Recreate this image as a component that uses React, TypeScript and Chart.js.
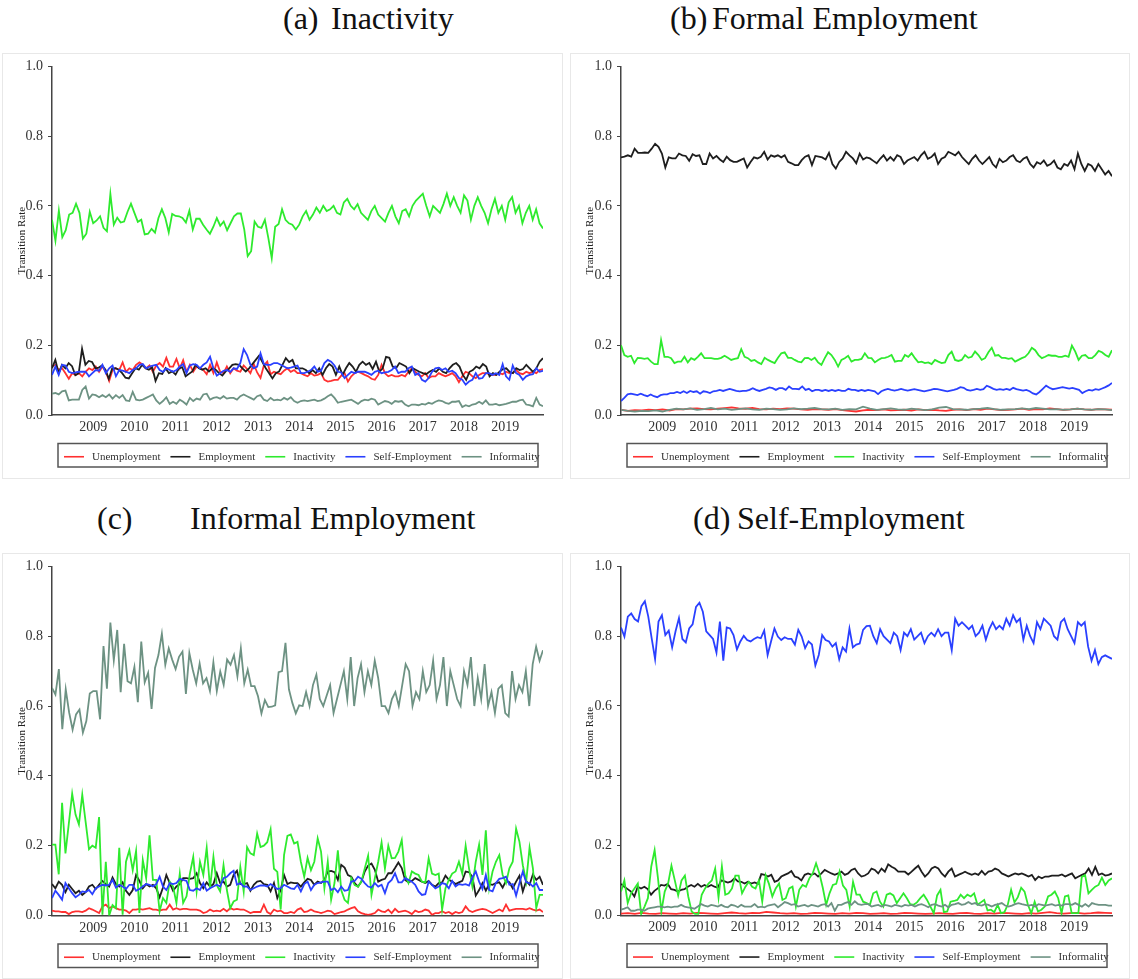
import React, { useEffect, useRef } from "react";
import { Chart, registerables } from "chart.js";

Chart.register(...registerables);

const FONT = '"Liberation Serif", "Times New Roman", Times, serif';

const SERIES_NAMES = ["Unemployment", "Employment", "Inactivity", "Self-Employment", "Informality"];
const SERIES_COLORS = ["#ff3030", "#1e1e1e", "#2eea2e", "#2a40ff", "#6d9283"];
const YEAR_TICKS = [2009, 2010, 2011, 2012, 2013, 2014, 2015, 2016, 2017, 2018, 2019];
const Y_TICKS = [0, 0.2, 0.4, 0.6, 0.8, 1.0];
const FIRST_MONTH = 2008; // Jan 2008
const LAST_MONTH = 2008 + 143 / 12; // Dec 2019

// ---- (a) transitions out of inactivity ----
const A_UNEMP = [0.139,0.144,0.129,0.134,0.12,0.104,0.12,0.115,0.12,0.111,0.124,0.134,0.129,0.139,0.124,0.139,0.124,0.098,0.129,0.134,0.129,0.151,0.124,0.134,0.129,0.144,0.151,0.144,0.134,0.142,0.124,0.142,0.149,0.139,0.164,0.139,0.139,0.161,0.134,0.157,0.124,0.144,0.124,0.139,0.134,0.129,0.117,0.144,0.12,0.151,0.124,0.12,0.139,0.12,0.134,0.127,0.124,0.142,0.132,0.12,0.146,0.122,0.106,0.142,0.153,0.117,0.124,0.12,0.117,0.127,0.134,0.124,0.129,
  0.12,0.12,0.115,0.111,0.12,0.113,0.115,0.12,0.101,0.096,0.098,0.101,0.101,0.113,0.12,0.096,0.111,0.12,0.124,0.12,0.115,0.111,0.104,0.101,0.115,0.144,0.12,0.111,0.115,0.111,0.111,0.115,0.111,0.124,0.134,0.124,0.115,0.111,0.12,0.106,0.111,0.111,0.12,0.115,0.111,0.115,0.12,0.111,0.094,0.111,0.124,0.12,0.111,0.106,0.115,0.12,0.12,0.117,0.115,0.115,0.12,0.117,0.124,0.12,0.12,0.129,0.12,0.117,0.124,0.12,0.124,0.12,0.129,0.132];
const A_EMP = [0.134,0.158,0.12,0.144,0.134,0.149,0.14,0.114,0.12,0.19,0.144,0.155,0.152,0.134,0.136,0.142,0.13,0.104,0.133,0.134,0.13,0.12,0.107,0.105,0.12,0.134,0.13,0.144,0.134,0.13,0.137,0.098,0.12,0.118,0.134,0.12,0.125,0.116,0.134,0.137,0.111,0.118,0.125,0.144,0.134,0.13,0.134,0.125,0.134,0.13,0.12,0.113,0.125,0.133,0.144,0.146,0.144,0.134,0.125,0.134,0.146,0.158,0.17,0.152,0.134,0.12,0.105,0.12,0.125,0.144,0.163,0.152,0.158,
  0.134,0.134,0.134,0.129,0.12,0.129,0.12,0.134,0.115,0.134,0.146,0.139,0.115,0.139,0.115,0.134,0.149,0.139,0.124,0.144,0.153,0.144,0.149,0.132,0.153,0.124,0.134,0.167,0.164,0.139,0.134,0.149,0.144,0.139,0.12,0.134,0.129,0.124,0.12,0.117,0.124,0.129,0.124,0.134,0.124,0.12,0.134,0.144,0.149,0.139,0.115,0.101,0.124,0.129,0.139,0.134,0.146,0.139,0.111,0.12,0.115,0.124,0.132,0.134,0.124,0.12,0.134,0.129,0.132,0.144,0.134,0.124,0.134,0.153,0.163];
const A_INACT = [0.56,0.50,0.586,0.51,0.53,0.575,0.58,0.606,0.58,0.506,0.52,0.583,0.55,0.558,0.57,0.537,0.527,0.634,0.546,0.566,0.552,0.555,0.583,0.606,0.58,0.554,0.56,0.518,0.52,0.534,0.523,0.565,0.59,0.565,0.524,0.577,0.571,0.57,0.565,0.552,0.586,0.532,0.563,0.563,0.546,0.532,0.52,0.54,0.565,0.543,0.555,0.53,0.55,0.57,0.578,0.578,0.532,0.456,0.47,0.555,0.54,0.537,0.56,0.508,0.45,0.54,0.548,0.59,0.56,0.55,0.546,0.532,0.546,
  0.57,0.585,0.56,0.575,0.595,0.58,0.6,0.585,0.59,0.6,0.58,0.575,0.61,0.62,0.6,0.59,0.605,0.58,0.57,0.56,0.585,0.6,0.575,0.565,0.555,0.58,0.6,0.57,0.55,0.585,0.59,0.57,0.6,0.615,0.625,0.635,0.6,0.57,0.6,0.59,0.58,0.605,0.635,0.6,0.625,0.6,0.58,0.63,0.615,0.56,0.6,0.625,0.6,0.58,0.55,0.59,0.62,0.58,0.6,0.56,0.61,0.625,0.58,0.6,0.55,0.58,0.6,0.56,0.59,0.55,0.535];
const A_SELF = [0.115,0.139,0.115,0.144,0.142,0.124,0.12,0.122,0.124,0.124,0.124,0.111,0.12,0.129,0.127,0.144,0.12,0.134,0.142,0.111,0.129,0.127,0.124,0.12,0.129,0.134,0.144,0.146,0.134,0.139,0.142,0.144,0.129,0.124,0.134,0.129,0.124,0.129,0.139,0.146,0.12,0.142,0.146,0.144,0.134,0.144,0.151,0.167,0.134,0.113,0.12,0.127,0.129,0.124,0.134,0.132,0.149,0.189,0.172,0.144,0.134,0.139,0.177,0.146,0.144,0.144,0.149,0.149,0.144,0.139,0.134,0.136,0.139,
  0.142,0.12,0.12,0.124,0.129,0.139,0.124,0.127,0.149,0.158,0.153,0.142,0.124,0.122,0.106,0.115,0.124,0.12,0.124,0.124,0.124,0.12,0.115,0.124,0.127,0.12,0.122,0.124,0.129,0.139,0.12,0.124,0.124,0.134,0.139,0.115,0.12,0.101,0.096,0.106,0.124,0.134,0.136,0.129,0.134,0.124,0.127,0.12,0.106,0.101,0.087,0.096,0.101,0.12,0.104,0.106,0.12,0.12,0.115,0.12,0.115,0.146,0.111,0.101,0.142,0.12,0.115,0.101,0.111,0.115,0.117,0.134,0.124,0.127];
const A_INFORM = [0.061,0.063,0.059,0.068,0.07,0.042,0.044,0.044,0.044,0.072,0.082,0.047,0.059,0.057,0.051,0.057,0.051,0.059,0.047,0.057,0.049,0.057,0.042,0.04,0.066,0.044,0.042,0.044,0.049,0.054,0.059,0.042,0.032,0.04,0.051,0.032,0.038,0.032,0.044,0.038,0.03,0.049,0.04,0.047,0.044,0.059,0.061,0.044,0.049,0.051,0.047,0.054,0.047,0.049,0.049,0.044,0.054,0.059,0.054,0.049,0.044,0.054,0.057,0.044,0.04,0.049,0.042,0.044,0.042,0.049,0.044,0.051,0.04,
  0.035,0.04,0.042,0.04,0.042,0.044,0.04,0.042,0.047,0.054,0.059,0.049,0.035,0.038,0.04,0.042,0.044,0.038,0.032,0.04,0.044,0.042,0.047,0.044,0.03,0.035,0.04,0.038,0.032,0.04,0.038,0.04,0.03,0.025,0.03,0.03,0.028,0.032,0.03,0.035,0.032,0.038,0.042,0.04,0.035,0.032,0.038,0.038,0.04,0.023,0.028,0.025,0.03,0.032,0.038,0.032,0.042,0.03,0.03,0.032,0.028,0.03,0.032,0.035,0.038,0.038,0.042,0.044,0.03,0.028,0.025,0.049,0.03,0.025];

// ---- (b) transitions out of formal employment ----
const B_UNEMP = [0.015,0.012,0.014,0.013,0.015,0.014,0.016,0.013,0.017,0.016,0.018,0.019,0.017,0.016,0.018,0.02,0.022,0.019,0.018,0.02,0.017,0.016,0.018,0.017,0.019,0.018,0.016,0.015,0.017,0.016,0.015,0.017,0.014,0.012,0.01,0.013,0.015,0.014,0.016,0.013,0.014,0.015,0.013,0.016,0.014,0.015,0.013,0.012,0.015,0.016,0.014,0.017,0.015,0.018,0.016,0.014,0.015,0.016,0.018,0.015,0.017,0.016,0.019,0.017,0.015,0.016,0.018,0.016,0.015,0.017,0.016,0.015];
const B_EMP = [0.739,0.741,0.745,0.741,0.764,0.752,0.752,0.753,0.752,0.764,0.778,0.769,0.75,0.71,0.739,0.736,0.736,0.75,0.745,0.743,0.729,0.748,0.743,0.745,0.72,0.72,0.75,0.736,0.743,0.733,0.726,0.741,0.731,0.726,0.726,0.731,0.736,0.71,0.726,0.739,0.736,0.741,0.755,0.733,0.745,0.741,0.745,0.739,0.745,0.726,0.722,0.717,0.717,0.731,0.741,0.745,0.717,0.743,0.741,0.739,0.733,0.752,0.72,0.707,0.726,0.736,0.755,0.745,0.736,0.722,0.75,0.733,0.739,0.736,0.729,0.722,
  0.735,0.745,0.73,0.74,0.73,0.745,0.74,0.72,0.73,0.735,0.74,0.73,0.745,0.755,0.735,0.74,0.75,0.72,0.735,0.74,0.755,0.75,0.745,0.755,0.74,0.73,0.72,0.735,0.745,0.73,0.72,0.73,0.74,0.72,0.71,0.735,0.725,0.73,0.74,0.745,0.73,0.725,0.735,0.74,0.72,0.71,0.725,0.72,0.73,0.715,0.72,0.73,0.71,0.705,0.72,0.715,0.73,0.705,0.75,0.72,0.7,0.72,0.715,0.7,0.72,0.705,0.69,0.7,0.685];
const B_INACT = [0.2,0.172,0.167,0.17,0.149,0.164,0.163,0.161,0.163,0.153,0.146,0.146,0.215,0.167,0.167,0.163,0.149,0.153,0.153,0.167,0.151,0.163,0.158,0.167,0.177,0.163,0.163,0.163,0.161,0.161,0.164,0.17,0.164,0.158,0.161,0.163,0.189,0.167,0.163,0.155,0.158,0.151,0.146,0.164,0.158,0.153,0.149,0.164,0.177,0.18,0.164,0.164,0.158,0.153,0.151,0.163,0.164,0.158,0.164,0.151,0.144,0.163,0.18,0.172,0.158,0.139,0.158,0.163,0.17,0.153,0.158,0.158,0.161,0.177,
  0.164,0.163,0.151,0.158,0.163,0.164,0.167,0.172,0.153,0.155,0.155,0.172,0.167,0.177,0.163,0.151,0.153,0.149,0.151,0.146,0.158,0.153,0.149,0.151,0.172,0.182,0.158,0.155,0.158,0.172,0.164,0.167,0.182,0.172,0.158,0.163,0.18,0.193,0.17,0.172,0.164,0.164,0.161,0.163,0.153,0.158,0.163,0.167,0.177,0.193,0.186,0.172,0.163,0.167,0.172,0.17,0.17,0.167,0.167,0.17,0.167,0.199,0.182,0.158,0.17,0.172,0.163,0.163,0.172,0.184,0.18,0.172,0.167,0.186];
const B_SELF = [0.04,0.049,0.059,0.061,0.059,0.057,0.061,0.057,0.054,0.059,0.054,0.051,0.057,0.059,0.059,0.063,0.063,0.066,0.063,0.068,0.063,0.069,0.066,0.068,0.061,0.068,0.066,0.063,0.068,0.069,0.072,0.069,0.072,0.075,0.072,0.069,0.068,0.069,0.069,0.072,0.077,0.072,0.069,0.072,0.075,0.079,0.077,0.072,0.077,0.077,0.072,0.082,0.075,0.075,0.074,0.082,0.072,0.075,0.068,0.072,0.072,0.069,0.072,0.069,0.072,0.069,0.072,0.069,0.069,0.075,0.072,0.072,0.069,0.072,0.069,
  0.072,0.07,0.068,0.06,0.068,0.072,0.075,0.072,0.07,0.072,0.075,0.072,0.07,0.072,0.074,0.072,0.07,0.068,0.07,0.072,0.075,0.074,0.072,0.07,0.068,0.07,0.072,0.075,0.08,0.078,0.072,0.07,0.072,0.075,0.072,0.074,0.084,0.08,0.075,0.072,0.074,0.072,0.075,0.072,0.078,0.074,0.072,0.07,0.072,0.068,0.062,0.059,0.066,0.075,0.084,0.078,0.074,0.076,0.078,0.08,0.078,0.076,0.078,0.075,0.072,0.063,0.068,0.072,0.07,0.074,0.072,0.076,0.08,0.085,0.092];
const B_INFORM = [0.015,0.012,0.01,0.012,0.011,0.013,0.01,0.015,0.018,0.016,0.019,0.015,0.017,0.02,0.016,0.018,0.015,0.017,0.019,0.016,0.015,0.018,0.017,0.015,0.016,0.019,0.017,0.018,0.02,0.017,0.016,0.018,0.015,0.017,0.016,0.024,0.018,0.015,0.017,0.019,0.016,0.015,0.018,0.016,0.014,0.016,0.021,0.023,0.017,0.016,0.015,0.017,0.018,0.02,0.017,0.015,0.016,0.017,0.019,0.017,0.02,0.018,0.016,0.017,0.015,0.016,0.018,0.016,0.015,0.017,0.016,0.014];

// ---- (c) transitions out of informal employment ----
const C_UNEMP = [0.014,0.012,0.012,0.01,0.01,0.004,0.01,0.012,0.012,0.01,0.014,0.021,0.017,0.012,0.007,0.026,0.031,0.021,0.026,0.021,0.017,0.017,0.014,0.007,0.017,0.017,0.019,0.017,0.019,0.021,0.017,0.017,0.014,0.017,0.017,0.031,0.017,0.021,0.017,0.019,0.019,0.017,0.017,0.017,0.014,0.007,0.01,0.017,0.012,0.014,0.012,0.019,0.012,0.021,0.017,0.019,0.017,0.017,0.012,0.007,0.01,0.01,0.01,0.031,0.01,0.004,0.017,0.012,0.014,0.007,0.007,0.01,0.007,
  0.017,0.021,0.01,0.012,0.017,0.012,0.01,0.007,0.01,0.014,0.012,0.004,0.007,0.01,0.012,0.017,0.021,0.024,0.012,0.007,0.004,0.002,0.004,0.007,0.017,0.012,0.01,0.017,0.007,0.019,0.01,0.012,0.014,0.01,0.004,0.014,0.01,0.012,0.017,0.014,0.002,0.007,0.007,0.012,0.007,0.01,0.004,0.01,0.007,0.01,0.026,0.014,0.01,0.014,0.017,0.019,0.017,0.012,0.007,0.012,0.017,0.012,0.031,0.014,0.017,0.019,0.019,0.019,0.017,0.021,0.017,0.014,0.017,0.01];
const C_EMP = [0.09,0.078,0.097,0.088,0.067,0.088,0.076,0.064,0.071,0.059,0.067,0.083,0.088,0.076,0.088,0.099,0.09,0.083,0.109,0.09,0.083,0.095,0.071,0.059,0.073,0.116,0.099,0.078,0.09,0.083,0.088,0.078,0.052,0.08,0.116,0.093,0.071,0.083,0.09,0.107,0.107,0.105,0.107,0.121,0.093,0.078,0.095,0.083,0.09,0.121,0.093,0.097,0.083,0.088,0.116,0.128,0.09,0.09,0.093,0.071,0.088,0.097,0.099,0.09,0.088,0.069,0.093,0.05,0.073,0.116,0.09,0.095,0.093,
  0.093,0.083,0.095,0.105,0.102,0.088,0.097,0.093,0.102,0.126,0.128,0.124,0.102,0.145,0.137,0.116,0.111,0.093,0.083,0.097,0.126,0.143,0.149,0.131,0.097,0.102,0.105,0.121,0.121,0.136,0.152,0.136,0.102,0.095,0.099,0.107,0.102,0.097,0.093,0.099,0.088,0.083,0.093,0.095,0.114,0.102,0.097,0.09,0.095,0.099,0.126,0.124,0.111,0.057,0.073,0.093,0.071,0.09,0.088,0.093,0.095,0.08,0.099,0.095,0.078,0.097,0.114,0.069,0.099,0.088,0.118,0.102,0.111,0.088];
const C_INACT = [0.203,0.203,0.118,0.323,0.178,0.263,0.349,0.289,0.261,0.346,0.268,0.19,0.2,0.194,0.282,0.002,0.154,0.0,0.03,0.021,0.194,0.002,0.154,0.187,0.13,0.185,0.007,0.159,0.107,0.23,0.102,0.102,0.012,0.05,0.036,0.097,0.083,0.036,0.12,0.036,0.055,0.12,0.168,0.069,0.154,0.116,0.194,0.078,0.168,0.087,0.069,0.144,0.073,0.021,0.04,0.045,0.139,0.069,0.196,0.178,0.173,0.235,0.196,0.2,0.21,0.247,0.134,0.125,0.017,0.173,0.228,0.232,0.206,
  0.211,0.154,0.111,0.165,0.13,0.154,0.221,0.183,0.078,0.154,0.045,0.093,0.187,0.073,0.045,0.036,0.107,0.087,0.083,0.097,0.135,0.171,0.059,0.107,0.154,0.209,0.135,0.2,0.164,0.165,0.183,0.216,0.116,0.093,0.126,0.12,0.116,0.097,0.095,0.164,0.12,0.116,0.12,0.017,0.078,0.102,0.12,0.126,0.154,0.12,0.2,0.135,0.083,0.154,0.203,0.116,0.244,0.078,0.126,0.154,0.173,0.116,0.093,0.135,0.154,0.249,0.211,0.144,0.097,0.194,0.135,0.021,0.059,0.059];
const C_SELF = [0.05,0.071,0.059,0.045,0.093,0.078,0.064,0.052,0.059,0.069,0.067,0.073,0.061,0.078,0.083,0.088,0.086,0.088,0.102,0.08,0.088,0.083,0.076,0.088,0.088,0.071,0.076,0.083,0.09,0.088,0.083,0.09,0.111,0.083,0.073,0.093,0.09,0.093,0.105,0.102,0.099,0.073,0.071,0.078,0.073,0.093,0.071,0.078,0.083,0.088,0.083,0.107,0.111,0.121,0.128,0.088,0.093,0.083,0.083,0.073,0.078,0.083,0.086,0.086,0.083,0.09,0.083,0.076,0.078,0.088,0.083,0.078,0.076,
  0.088,0.069,0.09,0.097,0.073,0.088,0.093,0.095,0.097,0.097,0.073,0.078,0.067,0.083,0.071,0.073,0.097,0.099,0.111,0.105,0.093,0.083,0.08,0.093,0.083,0.088,0.064,0.093,0.102,0.121,0.095,0.095,0.107,0.102,0.097,0.088,0.069,0.059,0.061,0.097,0.088,0.078,0.083,0.093,0.09,0.078,0.099,0.083,0.09,0.088,0.09,0.086,0.109,0.126,0.097,0.076,0.116,0.073,0.069,0.093,0.105,0.107,0.111,0.088,0.09,0.057,0.093,0.126,0.095,0.093,0.083,0.093,0.073,0.073];
const C_INFORM = [0.652,0.633,0.706,0.534,0.648,0.581,0.532,0.576,0.59,0.524,0.557,0.636,0.643,0.643,0.562,0.772,0.65,0.839,0.731,0.818,0.64,0.778,0.671,0.665,0.712,0.611,0.785,0.668,0.695,0.592,0.709,0.746,0.807,0.718,0.765,0.733,0.706,0.741,0.756,0.635,0.752,0.704,0.665,0.722,0.665,0.68,0.643,0.725,0.643,0.699,0.661,0.733,0.718,0.746,0.685,0.765,0.665,0.704,0.657,0.657,0.628,0.579,0.617,0.597,0.598,0.602,0.697,0.7,0.781,0.648,0.609,0.579,0.602,
  0.6,0.64,0.6,0.66,0.69,0.62,0.6,0.63,0.66,0.58,0.62,0.66,0.7,0.62,0.74,0.6,0.68,0.72,0.64,0.7,0.66,0.73,0.68,0.6,0.6,0.58,0.62,0.64,0.6,0.66,0.72,0.7,0.6,0.64,0.62,0.7,0.64,0.66,0.73,0.62,0.66,0.74,0.6,0.7,0.66,0.62,0.6,0.7,0.66,0.74,0.6,0.68,0.62,0.72,0.6,0.64,0.58,0.65,0.66,0.58,0.57,0.7,0.62,0.66,0.64,0.7,0.6,0.72,0.77,0.73,0.76];

// ---- (d) transitions out of self-employment ----
const D_UNEMP = [0.005,0.006,0.004,0.007,0.005,0.004,0.006,0.005,0.004,0.006,0.005,0.007,0.006,0.005,0.004,0.006,0.008,0.006,0.005,0.007,0.006,0.01,0.008,0.006,0.005,0.006,0.004,0.005,0.007,0.006,0.005,0.004,0.006,0.005,0.007,0.006,0.004,0.005,0.006,0.004,0.005,0.007,0.006,0.005,0.004,0.005,0.006,0.005,0.004,0.006,0.007,0.005,0.004,0.006,0.005,0.007,0.006,0.005,0.004,0.006,0.005,0.007,0.009,0.006,0.005,0.006,0.007,0.005,0.006,0.008,0.007,0.006];
const D_EMP = [0.09,0.082,0.075,0.068,0.054,0.082,0.077,0.082,0.075,0.059,0.07,0.077,0.087,0.085,0.09,0.075,0.073,0.068,0.073,0.075,0.082,0.087,0.082,0.09,0.082,0.087,0.082,0.087,0.082,0.079,0.1,0.097,0.094,0.097,0.106,0.097,0.096,0.091,0.096,0.091,0.094,0.09,0.118,0.116,0.111,0.116,0.096,0.1,0.111,0.116,0.12,0.127,0.111,0.108,0.1,0.116,0.12,0.116,0.12,0.111,0.12,0.13,0.125,0.12,0.116,0.12,0.125,0.116,0.12,0.13,0.134,0.12,0.111,0.114,
  0.12,0.134,0.13,0.12,0.134,0.125,0.146,0.139,0.134,0.125,0.125,0.125,0.117,0.125,0.134,0.142,0.125,0.111,0.12,0.134,0.139,0.134,0.12,0.111,0.125,0.134,0.111,0.116,0.12,0.125,0.12,0.116,0.12,0.116,0.127,0.116,0.125,0.127,0.134,0.13,0.12,0.116,0.111,0.116,0.12,0.117,0.12,0.116,0.111,0.116,0.101,0.111,0.106,0.111,0.111,0.114,0.114,0.114,0.117,0.111,0.116,0.12,0.106,0.111,0.116,0.12,0.134,0.116,0.139,0.116,0.12,0.114,0.116,0.12];
const D_INACT = [0.068,0.1,0.035,0.063,0.077,0.091,0.004,0.025,0.049,0.14,0.187,0.106,0.011,0.068,0.091,0.142,0.1,0.057,0.1,0.114,0.054,0.011,0.004,0.004,0.059,0.077,0.091,0.1,0.134,0.051,0.14,0.059,0.063,0.077,0.114,0.114,0.063,0.082,0.096,0.082,0.077,0.1,0.039,0.115,0.09,0.054,0.077,0.091,0.044,0.049,0.077,0.082,0.025,0.073,0.087,0.082,0.106,0.12,0.149,0.12,0.079,0.03,0.063,0.087,0.09,0.126,0.085,0.073,0.025,0.096,0.059,0.059,0.039,0.035,
  0.03,0.063,0.068,0.039,0.025,0.059,0.063,0.057,0.035,0.049,0.063,0.049,0.032,0.03,0.037,0.049,0.059,0.044,0.025,0.006,0.057,0.073,0.009,0.011,0.039,0.041,0.044,0.059,0.049,0.059,0.054,0.063,0.03,0.037,0.044,0.014,0.016,0.009,0.03,0.006,0.009,0.03,0.073,0.037,0.052,0.079,0.068,0.03,0.006,0.039,0.011,0.016,0.025,0.054,0.059,0.068,0.049,0.006,0.054,0.057,0.006,0.006,0.006,0.11,0.115,0.063,0.073,0.082,0.087,0.108,0.087,0.1,0.106];
const D_SELF = [0.825,0.799,0.856,0.865,0.849,0.842,0.886,0.9,0.856,0.794,0.734,0.842,0.86,0.803,0.816,0.768,0.814,0.852,0.792,0.782,0.822,0.834,0.884,0.896,0.87,0.814,0.803,0.792,0.753,0.842,0.73,0.825,0.822,0.803,0.762,0.785,0.801,0.789,0.785,0.792,0.797,0.794,0.816,0.746,0.785,0.822,0.799,0.789,0.797,0.792,0.792,0.776,0.818,0.799,0.766,0.785,0.776,0.716,0.746,0.803,0.789,0.785,0.77,0.78,0.734,0.768,0.756,0.822,0.768,0.776,0.779,0.818,0.829,
  0.83,0.8,0.78,0.82,0.8,0.79,0.78,0.81,0.8,0.76,0.81,0.8,0.82,0.79,0.8,0.81,0.78,0.8,0.81,0.8,0.82,0.8,0.81,0.81,0.76,0.85,0.83,0.84,0.83,0.82,0.83,0.8,0.81,0.83,0.79,0.82,0.84,0.82,0.83,0.82,0.85,0.83,0.86,0.84,0.85,0.79,0.83,0.8,0.78,0.84,0.82,0.85,0.84,0.83,0.8,0.79,0.84,0.85,0.82,0.8,0.78,0.84,0.83,0.84,0.77,0.73,0.76,0.72,0.74,0.745,0.74,0.735];
const D_INFORM = [0.016,0.019,0.023,0.013,0.013,0.016,0.016,0.013,0.019,0.021,0.023,0.025,0.025,0.023,0.025,0.023,0.025,0.025,0.03,0.025,0.023,0.021,0.019,0.025,0.032,0.028,0.025,0.03,0.028,0.025,0.03,0.025,0.023,0.03,0.028,0.023,0.03,0.025,0.025,0.025,0.032,0.023,0.025,0.023,0.028,0.03,0.032,0.023,0.03,0.038,0.035,0.03,0.032,0.025,0.028,0.03,0.025,0.03,0.028,0.025,0.03,0.032,0.025,0.035,0.013,0.03,0.03,0.035,0.038,0.03,0.04,0.032,0.03,0.032,
  0.032,0.025,0.028,0.03,0.025,0.03,0.028,0.025,0.03,0.028,0.025,0.03,0.028,0.03,0.025,0.03,0.032,0.028,0.023,0.03,0.032,0.028,0.025,0.03,0.023,0.03,0.032,0.035,0.03,0.032,0.038,0.032,0.035,0.03,0.028,0.032,0.03,0.025,0.03,0.032,0.035,0.028,0.025,0.028,0.032,0.035,0.032,0.03,0.028,0.03,0.025,0.032,0.03,0.028,0.03,0.032,0.028,0.03,0.028,0.032,0.032,0.03,0.035,0.03,0.025,0.032,0.025,0.035,0.032,0.03,0.03,0.03,0.028,0.028];

type PanelSpec = {
  id: string;
  left: number;
  top: number;
  width: number;
  height: number;
  yAxisWidth: number;
  padTop: number;
  padRight: number;
  xAxisHeight: number;
  series: number[][];
};

const PANELS: PanelSpec[] = [
  { id: "a", left: 2, top: 53, width: 561, height: 426, yAxisWidth: 50, padTop: 12, padRight: 18, xAxisHeight: 62,
    series: [A_UNEMP, A_EMP, A_INACT, A_SELF, A_INFORM] },
  { id: "b", left: 570, top: 53, width: 560, height: 426, yAxisWidth: 51, padTop: 12, padRight: 16, xAxisHeight: 62,
    series: [B_UNEMP, B_EMP, B_INACT, B_SELF, B_INFORM] },
  { id: "c", left: 2, top: 553, width: 561, height: 426, yAxisWidth: 50, padTop: 13, padRight: 18, xAxisHeight: 61.5,
    series: [C_UNEMP, C_EMP, C_INACT, C_SELF, C_INFORM] },
  { id: "d", left: 570, top: 553, width: 560, height: 426, yAxisWidth: 51, padTop: 13, padRight: 16, xAxisHeight: 61.7,
    series: [D_UNEMP, D_EMP, D_INACT, D_SELF, D_INFORM] },
];

const TITLES = [
  { tag: "(a)", tagX: 283, name: "Inactivity", nameX: 331, top: 1 },
  { tag: "(b)", tagX: 670, name: "Formal Employment", nameX: 712, top: 1 },
  { tag: "(c)", tagX: 97, name: "Informal Employment", nameX: 190, top: 501 },
  { tag: "(d)", tagX: 693, name: "Self-Employment", nameX: 737, top: 501 },
];

function toPoints(values: number[]) {
  const step = (LAST_MONTH - FIRST_MONTH) / (values.length - 1);
  return values.map((y, i) => ({ x: FIRST_MONTH + i * step, y }));
}

// Legend drawn as a framed row of line samples under the x axis.
const framedLegend = {
  id: "framedLegend",
  afterDraw(chart: any) {
    const { ctx, chartArea } = chart;
    const left = chartArea.left + 6;
    const right = chartArea.right - 5;
    const top = chartArea.bottom + 28.5;
    const h = 23.5;
    ctx.save();
    ctx.strokeStyle = "#555";
    ctx.lineWidth = 1.5;
    ctx.strokeRect(left, top, right - left, h);
    ctx.font = `11px ${FONT}`;
    ctx.textBaseline = "middle";
    const cy = top + h / 2 + 1.5;
    let x = left + 6;
    SERIES_NAMES.forEach((name, i) => {
      ctx.strokeStyle = SERIES_COLORS[i];
      ctx.lineWidth = 1.6;
      ctx.beginPath();
      ctx.moveTo(x, cy);
      ctx.lineTo(x + 20, cy);
      ctx.stroke();
      x += 28;
      ctx.fillStyle = "#333";
      ctx.fillText(name, x, cy);
      x += ctx.measureText(name).width + 10;
    });
    ctx.restore();
  },
};

function Panel({ spec }: { spec: PanelSpec }) {
  const ref = useRef<HTMLCanvasElement>(null);
  useEffect(() => {
    const canvas = ref.current;
    if (!canvas) return;
    const datasets = spec.series.map((vals, i) => ({
      label: SERIES_NAMES[i],
      data: toPoints(vals),
      borderColor: SERIES_COLORS[i],
      backgroundColor: SERIES_COLORS[i],
      borderWidth: 1.8,
      pointRadius: 0,
      tension: 0,
      fill: false,
      order: SERIES_NAMES.length - i, // later series drawn above earlier ones
    }));
    const chart = new Chart(canvas, {
      type: "line",
      data: { datasets },
      plugins: [framedLegend],
      options: {
        responsive: false,
        animation: false,
        layout: { padding: { top: spec.padTop, right: spec.padRight, bottom: 0, left: 0 } },
        plugins: { legend: { display: false }, tooltip: { enabled: false } },
        scales: {
          x: {
            type: "linear",
            min: FIRST_MONTH,
            max: LAST_MONTH,
            afterBuildTicks: (scale: any) => {
              scale.ticks = YEAR_TICKS.map((value) => ({ value }));
            },
            afterFit: (scale: any) => {
              scale.height = spec.xAxisHeight;
            },
            grid: { display: true, drawOnChartArea: false, drawTicks: false },
            border: { display: true, color: "#444", width: 1.5 },
            ticks: {
              autoSkip: false,
              maxRotation: 0,
              padding: 4,
              color: "#333",
              font: { family: FONT, size: 14 },
              callback: (v: any) => String(v),
            },
          },
          y: {
            min: 0,
            max: 1,
            afterBuildTicks: (scale: any) => {
              scale.ticks = Y_TICKS.map((value) => ({ value }));
            },
            afterFit: (scale: any) => {
              scale.width = spec.yAxisWidth;
            },
            grid: { display: true, drawOnChartArea: false, drawTicks: true, tickLength: 4, color: "#444" },
            border: { display: true, color: "#444", width: 1.5 },
            ticks: {
              padding: 5,
              color: "#333",
              font: { family: FONT, size: 14 },
              callback: (v: any) => Number(v).toFixed(1),
            },
            title: {
              display: true,
              text: "Transition Rate",
              color: "#222",
              font: { family: FONT, size: 11 },
              padding: { top: 14, bottom: 0 },
            },
          },
        },
      } as any,
    });
    return () => chart.destroy();
  }, [spec]);

  return (
    <div
      style={{
        position: "absolute",
        left: spec.left,
        top: spec.top,
        width: spec.width,
        height: spec.height,
        boxSizing: "border-box",
        border: "1px solid #e8e8e8",
      }}
    >
      <canvas
        ref={ref}
        width={spec.width - 2}
        height={spec.height - 2}
        style={{ display: "block", position: "absolute", left: -1, top: -1 }}
      />
    </div>
  );
}

export default function App() {
  return (
    <div
      style={{
        position: "absolute",
        left: 0,
        top: 0,
        width: 1138,
        height: 979,
        background: "#fff",
        overflow: "hidden",
        fontFamily: FONT,
      }}
    >
      {TITLES.map((t) => (
        <React.Fragment key={t.tag}>
          <div style={{ position: "absolute", left: t.tagX, top: t.top, fontSize: 32, lineHeight: "34px", color: "#111", whiteSpace: "pre" }}>
            {t.tag}
          </div>
          <div style={{ position: "absolute", left: t.nameX, top: t.top, fontSize: 32, lineHeight: "34px", color: "#111", whiteSpace: "pre" }}>
            {t.name}
          </div>
        </React.Fragment>
      ))}
      {PANELS.map((p) => (
        <Panel key={p.id} spec={p} />
      ))}
    </div>
  );
}
